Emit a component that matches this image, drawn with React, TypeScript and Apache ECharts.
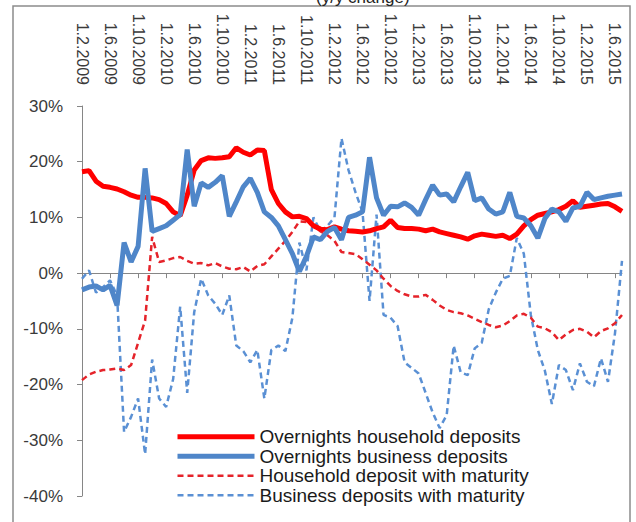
import React, { useEffect, useRef } from "react";
import * as echarts from "echarts";

const categories: string[] = [
  "1.2.2009", "1.3.2009", "1.4.2009", "1.5.2009", "1.6.2009", "1.7.2009", "1.8.2009", "1.9.2009", "1.10.2009", "1.11.2009", "1.12.2009",
  "1.1.2010", "1.2.2010", "1.3.2010", "1.4.2010", "1.5.2010", "1.6.2010", "1.7.2010", "1.8.2010", "1.9.2010", "1.10.2010", "1.11.2010", "1.12.2010",
  "1.1.2011", "1.2.2011", "1.3.2011", "1.4.2011", "1.5.2011", "1.6.2011", "1.7.2011", "1.8.2011", "1.9.2011", "1.10.2011", "1.11.2011", "1.12.2011",
  "1.1.2012", "1.2.2012", "1.3.2012", "1.4.2012", "1.5.2012", "1.6.2012", "1.7.2012", "1.8.2012", "1.9.2012", "1.10.2012", "1.11.2012", "1.12.2012",
  "1.1.2013", "1.2.2013", "1.3.2013", "1.4.2013", "1.5.2013", "1.6.2013", "1.7.2013", "1.8.2013", "1.9.2013", "1.10.2013", "1.11.2013", "1.12.2013",
  "1.1.2014", "1.2.2014", "1.3.2014", "1.4.2014", "1.5.2014", "1.6.2014", "1.7.2014", "1.8.2014", "1.9.2014", "1.10.2014", "1.11.2014", "1.12.2014",
  "1.1.2015", "1.2.2015", "1.3.2015", "1.4.2015", "1.5.2015", "1.6.2015", "1.7.2015",
];

const seriesNames: string[] = [
  "Overnights household deposits",
  "Overnights business deposits",
  "Household deposit with maturity",
  "Business deposits with maturity",
];

const overnightHousehold: number[] = [
  18.2, 18.4, 16.5, 15.6, 15.4, 15.1, 14.6, 14.0, 13.6, 13.6, 13.5,
  13.2, 12.5, 11.0, 10.3, 14.0, 18.5, 20.2, 20.7, 20.6, 20.7, 20.9, 22.5,
  21.7, 21.2, 22.1, 22.0, 15.0, 12.5, 11.0, 10.1, 10.2, 9.8, 8.5, 7.9,
  7.8, 8.3, 7.9, 7.6, 7.5, 7.4, 7.6, 8.0, 8.3, 9.5, 8.2, 8.0,
  8.0, 7.9, 7.6, 7.9, 7.4, 7.1, 6.8, 6.5, 6.1, 6.7, 7.0, 6.8,
  6.6, 6.8, 6.2, 7.0, 8.5, 9.6, 10.4, 10.7, 11.0, 11.4, 12.0, 13.0,
  11.8, 12.0, 12.2, 12.4, 12.5, 11.9, 11.1,
];

const overnightBusiness: number[] = [
  -3.0, -2.5, -2.3, -3.0, -2.2, -5.8, 5.5, 2.0, 4.8, 18.8, 7.5,
  8.0, 8.5, 9.5, 10.5, 22.2, 12.0, 16.2, 15.4, 16.3, 17.5, 10.2, 12.8,
  15.5, 17.0, 14.5, 11.0, 10.0, 8.5, 6.0, 3.5, 0.3, 3.0, 6.5, 6.0,
  7.5, 8.2, 6.0, 10.0, 10.4, 11.0, 20.8, 13.5, 10.4, 12.0, 11.9, 12.6,
  11.8, 10.4, 13.2, 15.8, 14.0, 14.2, 12.8, 15.5, 18.1, 13.0, 13.5, 11.5,
  10.6, 11.0, 14.5, 10.2, 9.9, 8.5, 6.3, 9.8, 11.5, 11.0, 9.3, 11.7,
  12.0, 14.5, 13.2, 13.5, 13.8, 14.0, 14.2,
];

const householdMaturity: number[] = [
  -19.2, -18.2, -17.7, -17.4, -17.3, -17.1, -17.4, -16.5, -12.5, -8.5, 6.5,
  2.0, 2.3, 2.7, 2.9, 2.2, 1.7, 1.8, 1.4, 1.8, 1.2, 0.8, 0.7,
  1.1, 0.3, 1.3, 1.6, 3.0, 4.4, 5.8, 7.4, 9.3, 9.2, 8.5, 7.5,
  6.8, 5.8, 3.8, 3.6, 3.4, 2.5, 1.5, 0.5, -1.0, -2.3, -3.2, -3.8,
  -4.2, -4.2, -3.9, -4.8, -5.8, -6.6, -7.0, -7.2, -7.6, -8.2, -8.8, -9.3,
  -9.7, -9.4, -8.6, -7.6, -7.3, -8.0, -9.6, -9.9, -10.6, -12.0, -11.0, -10.2,
  -10.0, -10.5, -11.5, -10.4, -9.9, -9.0, -7.5,
];

const businessMaturity: number[] = [
  -1.0, 0.5, -3.5, -2.5, -1.3, -4.0, -28.5, -25.8, -22.5, -32.5, -15.5,
  -22.5, -24.0, -19.0, -6.0, -21.5, -7.0, -1.0, -4.0, -5.5, -7.5, -4.0, -13.0,
  -14.0, -16.0, -13.8, -22.5, -13.8, -13.0, -14.0, -8.0, 5.5, 0.5, 10.0, 7.5,
  8.5, 10.0, 24.2, 18.5, 14.5, 11.0, -5.0, 10.5, -7.5, -8.0, -9.5, -16.0,
  -17.0, -18.0, -21.5, -25.0, -27.8, -25.5, -13.0, -17.8, -18.3, -13.5, -12.5, -6.5,
  -3.5, -1.0, -0.5, 6.3, 3.5, -7.5, -13.8, -17.5, -23.5, -16.5, -17.4, -21.0,
  -16.2, -19.5, -20.3, -15.3, -19.5, -10.8, 2.2,
];

const yTicks = { min: -40, max: 30, interval: 10 };
const titleText = "(y/y change)";

const colors = ["#ff0000", "#4f86c9", "#e5232a", "#5a90d4"];
const widths = [5, 5, 2.5, 2.5];
const dashes: (string | number[])[] = ["solid", "solid", [6, 4], [6, 4]];

export default function App() {
  const ref = useRef<HTMLDivElement>(null);
  useEffect(() => {
    if (!ref.current) return;
    const chart = echarts.init(ref.current, null, { renderer: "svg" });
    const font = "Liberation Sans, Arial, sans-serif";
    const dataSets = [overnightHousehold, overnightBusiness, householdMaturity, businessMaturity];
    const zs = [3, 4, 2, 1];
    chart.setOption({
      animation: false,
      backgroundColor: "#ffffff",
      textStyle: { fontFamily: font },
      graphic: [
        {
          type: "rect",
          shape: { x: 13, y: 6, width: 617, height: 530 },
          style: { fill: "none", stroke: "#8c8c8c", lineWidth: 1.5 },
          silent: true,
        },
        {
          type: "text",
          x: 316,
          y: -11,
          style: { text: titleText, fontSize: 17, fontFamily: font, fill: "#222" },
          silent: true,
        },
      ],
      grid: { left: 82, right: 14, top: 106, bottom: 26, containLabel: false },
      legend: {
        data: seriesNames.map((n, k) => ({
          name: n,
          itemStyle: { opacity: 0 },
          lineStyle: { color: colors[k], width: widths[k], type: dashes[k], opacity: 1 },
        })),
        orient: "vertical",
        left: 175,
        top: 427,
        height: 120,
        itemWidth: 77,
        itemHeight: 14,
        itemGap: 0,
        padding: 0,
        textStyle: { fontSize: 19, lineHeight: 19.5, color: "#1a1a1a", fontFamily: font },
      },
      xAxis: [
        {
          type: "category",
          data: categories,
          boundaryGap: false,
          position: "bottom",
          axisLine: { onZero: true, lineStyle: { color: "#868686", width: 1 } },
          axisTick: { show: true, interval: 3, length: 5, lineStyle: { color: "#868686" } },
          axisLabel: { show: false },
          splitLine: { show: false },
        },
        {
          type: "category",
          data: categories,
          boundaryGap: false,
          position: "top",
          axisLine: { show: false },
          axisTick: { show: false },
          axisLabel: {
            show: true,
            interval: 3,
            rotate: 90,
            margin: 21,
            fontSize: 16,
            color: "#3a3a3a",
            fontFamily: font,
          },
          splitLine: { show: false },
        },
      ],
      yAxis: {
        type: "value",
        min: yTicks.min,
        max: yTicks.max,
        interval: yTicks.interval,
        axisLine: { show: true, lineStyle: { color: "#868686", width: 1 } },
        axisTick: { show: true, length: 5, lineStyle: { color: "#868686" } },
        axisLabel: { formatter: "{value}%", fontSize: 17, color: "#3a3a3a", margin: 19, fontFamily: font },
        splitLine: { show: false },
      },
      series: seriesNames.map((n, k) => ({
        name: n,
        type: "line",
        xAxisIndex: 0,
        data: dataSets[k],
        symbol: "none",
        lineStyle: { color: colors[k], width: widths[k], type: dashes[k] },
        itemStyle: { color: colors[k] },
        z: zs[k],
      })),
    });
    return () => chart.dispose();
  }, []);
  return (
    <div
      ref={ref}
      style={{ position: "fixed", left: 0, top: 0, width: 636, height: 522 }}
    />
  );
}
